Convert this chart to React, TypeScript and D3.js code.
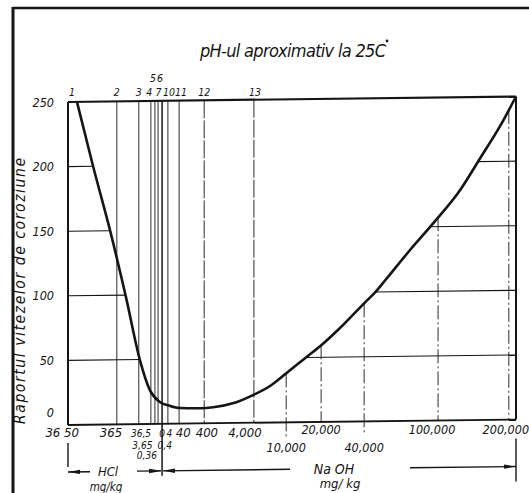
import React from 'react';
import * as d3 from 'd3';

// ---- data ----
// x positions are given as percent of the axis width (the drawing's own non-uniform scale)
const yTicks = [0, 50, 100, 150, 200, 250];
const yTickLabels = ['0', '50', '100', '150', '200', '250'];

const phLineU = [0, 10.9, 15.8, 18.5, 19.4, 20.1, 21.0, 22.3, 24.8, 30.4, 41.5];
const phLabels = ['1', '2', '3', '4', '5', '6', '7', '10', '11', '12', '13'];
const phLabelRow = [0, 0, 0, 0, 1, 1, 0, 0, 0, 0, 0];

const naohLineU = [48.7, 56.5, 66.1, 82.6, 98.4];
const naohLabels = ['10,000', '20,000', '40,000', '100,000', '200,000'];
const naohLabelRow = [1, 0, 1, 0, 0];

const hclLabels = ['36 50', '365', '36,5', '0', '4', '40', '400', '4,000', '3,65', '0,4', '0,36'];
const hclLabelU = [-1.3, 9.6, 16.3, 21.0, 22.6, 25.7, 31.0, 39.5, 16.6, 21.6, 17.6];
const hclLabelRow = [0, 0, 0, 0, 0, 0, 0, 0, 1, 1, 2];

const curveU = [2.0, 5.6, 9.4, 12.9, 16.1, 18.3, 20.5, 22.8, 25.0, 29.5, 32.4, 36.8, 41.3, 45.1, 48.7, 53.3, 56.4, 61.4, 66.1, 68.5, 70.8, 76.3, 81.5, 87.5, 92.0, 96.4, 100];
const curveV = [250, 200, 150, 99, 49, 26, 17, 13.8, 12.1, 11.7, 12.3, 15.2, 21.4, 28.3, 37.9, 50.6, 59, 74.8, 91.4, 99.5, 109, 132, 152.6, 178, 202.6, 227, 250];

const title = 'pH-ul aproximativ la 25';
const yTitle = 'Raportul vitezelor de coroziune';

// ---- layout ----
const W = 529, H = 493;
const x = d3.scaleLinear().domain([0, 100]).range([68, 516]);
const y = d3.scaleLinear().domain([0, 250]).range([425, 102]);
const skew = 'translate(68,0) skewY(-0.7) translate(-68,0)';
const font = "'Liberation Sans Narrow','DejaVu Sans Condensed','Liberation Sans',sans-serif";
const ink = '#151515';
const rowY = [437, 448.5, 459];

const minIdx = curveV.indexOf(d3.min(curveV) as number);
function crossU(v: number, left: boolean): number {
  const idx = left ? d3.range(0, minIdx) : d3.range(minIdx, curveU.length - 1);
  for (const i of idx) {
    const a = curveV[i], b = curveV[i + 1];
    if ((a - v) * (b - v) <= 0 && a !== b) {
      return curveU[i] + ((v - a) / (b - a)) * (curveU[i + 1] - curveU[i]);
    }
  }
  return left ? 0 : 100;
}
function valueAt(u: number): number {
  for (let i = 0; i < curveU.length - 1; i++) {
    if (u >= curveU[i] && u <= curveU[i + 1]) {
      return curveV[i] + ((u - curveU[i]) / (curveU[i + 1] - curveU[i])) * (curveV[i + 1] - curveV[i]);
    }
  }
  return 0;
}

export default function App() {
  const line = d3.line<number>()
    .x((_, i) => x(curveU[i]))
    .y((d) => y(d))
    .curve(d3.curveMonotoneX);
  const dividerX = x(phLineU[6]);
  const phOffset = [4, 0, 0, -1.5, -2, 2, -3.6, 1.2, 2, 0, 1];

  return (
    <svg width={W} height={H} style={{ position: 'absolute', left: 0, top: 0, background: '#fff' }}>
      <defs>
        <marker id="arr" viewBox="0 0 12 6" refX="12" refY="3" markerWidth="12" markerHeight="6" markerUnits="userSpaceOnUse" orient="auto-start-reverse">
          <path d="M0,0.8 L12,3 L0,5.2 Z" fill={ink} />
        </marker>
      </defs>
      {/* outer frame of the scan */}
      <line x1={13} y1={8} x2={W} y2={8} stroke={ink} strokeWidth={2.5} />
      <line x1={13} y1={7} x2={13} y2={H} stroke={ink} strokeWidth={3} />

      <g transform={skew}>
        {/* horizontal grid segments */}
        {yTicks.filter((v) => v > 0 && v < 250).map((v) => (
          <g key={'h' + v}>
            <line x1={x(0)} x2={x(crossU(v, true))} y1={y(v)} y2={y(v)} stroke={ink} strokeWidth={1.1} />
            <line x1={x(crossU(v, false))} x2={x(100)} y1={y(v)} y2={y(v)} stroke={ink} strokeWidth={1.1} />
          </g>
        ))}
        {/* pH vertical lines */}
        {phLineU.slice(1).map((u, i) => (
          <line key={'p' + i} x1={x(u)} x2={x(u)} y1={y(250)} y2={i + 1 === 6 ? 477 : y(0)}
            stroke={ink} strokeWidth={i + 1 === 6 ? 1.5 : 0.9} strokeDasharray={i + 1 >= 9 ? '18,2' : undefined} />
        ))}
        {/* NaOH vertical lines from curve down */}
        {naohLineU.map((u, i) => (
          <line key={'n' + i} x1={x(u)} x2={x(u)} y1={y(valueAt(u))} y2={y(0) + (naohLabelRow[i] === 1 ? 14 : 0)}
            stroke={ink} strokeWidth={0.9} strokeDasharray="14,3,2,3" />
        ))}
        {/* frame of the plot */}
        <line x1={x(0)} x2={x(100)} y1={y(250)} y2={y(250)} stroke={ink} strokeWidth={2.2} />
        <line x1={x(0)} x2={x(100)} y1={y(0)} y2={y(0)} stroke={ink} strokeWidth={1.8} />
        <line x1={x(0)} x2={x(0)} y1={y(250)} y2={y(0)} stroke={ink} strokeWidth={2} />
        <line x1={x(100)} x2={x(100)} y1={y(250)} y2={y(0)} stroke={ink} strokeWidth={2} />
        {/* curve */}
        <path d={line(curveV) || ''} fill="none" stroke={ink} strokeWidth={2.6} />

        {/* HCl / NaOH ranges */}
        <line x1={x(0)} x2={x(0)} y1={443} y2={467} stroke={ink} strokeWidth={1.4} />
        <line x1={x(100)} x2={x(100)} y1={444} y2={487} stroke={ink} strokeWidth={1.4} />
        <line x1={90} x2={x(0)} y1={472} y2={472} stroke={ink} strokeWidth={1.4} markerEnd="url(#arr)" />
        <line x1={137} x2={dividerX - 1} y1={472} y2={472} stroke={ink} strokeWidth={1.4} markerEnd="url(#arr)" />
        <line x1={290} x2={dividerX + 1} y1={472} y2={472} stroke={ink} strokeWidth={1.4} markerEnd="url(#arr)" />
        <line x1={410} x2={x(100)} y1={472} y2={472} stroke={ink} strokeWidth={1.4} markerEnd="url(#arr)" />
      </g>

      {/* texts */}
      <g fontFamily={font} fontStyle="italic" fill={ink}>
        <text x={200} y={57} fontSize={18} textLength={186} lengthAdjust="spacing">
          {title}
          <tspan>C</tspan>
        </text>
        <circle cx={387} cy={41} r={1.4} fill={ink} />
        <text transform="translate(25,424) rotate(-90)" fontSize={15.5} textLength={266} lengthAdjust="spacing">{yTitle}</text>
        {yTicks.map((v, i) => (
          <text key={'yt' + v} x={54} y={y(v) + (v === 0 ? -8 : 4.5)} fontSize={12.5} textAnchor="end">{yTickLabels[i]}</text>
        ))}
        {phLabels.map((t, i) => (
          <text key={'pl' + i} x={x(phLineU[i]) + phOffset[i]} y={phLabelRow[i] ? 82 : 96} fontSize={10.5} textAnchor="middle">{t}</text>
        ))}
        {hclLabels.map((t, i) => (
          <text key={'hl' + i} x={x(hclLabelU[i])} y={rowY[hclLabelRow[i]]} fontSize={hclLabelRow[i] > 0 || (i >= 2 && i <= 4) ? 10 : 13} textAnchor="middle">{t}</text>
        ))}
        {naohLabels.map((t, i) => (
          <text key={'nl' + i} x={x(naohLineU[i]) + (i === 4 ? -3 : i === 3 ? -6 : 0)} y={naohLabelRow[i] ? 452 : 434} fontSize={12.5} textAnchor="middle">{t}</text>
        ))}
        <text x={108} y={476} fontSize={13} textAnchor="middle">HCl</text>
        <text x={106} y={491} fontSize={11.5} textAnchor="middle">mg/kg</text>
        <text x={334} y={474} fontSize={14} textAnchor="middle">Na OH</text>
        <text x={340} y={488} fontSize={13} textAnchor="middle">mg/ kg</text>
      </g>
    </svg>
  );
}
